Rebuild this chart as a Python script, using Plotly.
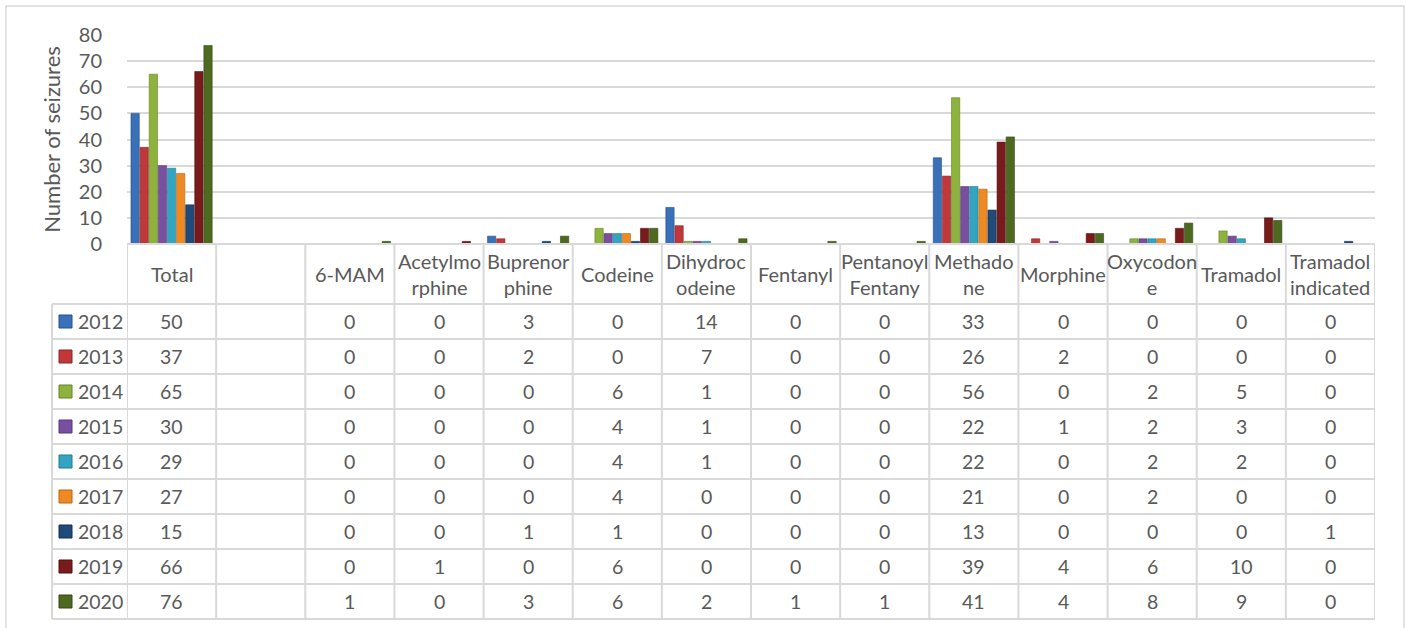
import plotly.graph_objects as go

# Categories (the second one is an empty spacer column)
categories = ["Total", "", "6-MAM", "Acetylmorphine", "Buprenorphine", "Codeine",
              "Dihydrocodeine", "Fentanyl", "Pentanoyl Fentany", "Methadone",
              "Morphine", "Oxycodone", "Tramadol", "Tramadol indicated"]
header_labels = ["Total", "", "6-MAM", "Acetylmo<br>rphine", "Buprenor<br>phine", "Codeine",
                 "Dihydroc<br>odeine", "Fentanyl", "Pentanoyl<br>Fentany", "Methado<br>ne",
                 "Morphine", "Oxycodon<br>e", "Tramadol", "Tramadol<br>indicated"]

years = ["2012", "2013", "2014", "2015", "2016", "2017", "2018", "2019", "2020"]

v2012 = [50, None, 0, 0, 3, 0, 14, 0, 0, 33, 0, 0, 0, 0]
v2013 = [37, None, 0, 0, 2, 0, 7, 0, 0, 26, 2, 0, 0, 0]
v2014 = [65, None, 0, 0, 0, 6, 1, 0, 0, 56, 0, 2, 5, 0]
v2015 = [30, None, 0, 0, 0, 4, 1, 0, 0, 22, 1, 2, 3, 0]
v2016 = [29, None, 0, 0, 0, 4, 1, 0, 0, 22, 0, 2, 2, 0]
v2017 = [27, None, 0, 0, 0, 4, 0, 0, 0, 21, 0, 2, 0, 0]
v2018 = [15, None, 0, 0, 1, 1, 0, 0, 0, 13, 0, 0, 0, 1]
v2019 = [66, None, 0, 1, 0, 6, 0, 0, 0, 39, 4, 6, 10, 0]
v2020 = [76, None, 1, 0, 3, 6, 2, 1, 1, 41, 4, 8, 9, 0]
series = [v2012, v2013, v2014, v2015, v2016, v2017, v2018, v2019, v2020]

colors = ["#3A70B8", "#C0383A", "#8DB33D", "#7950A0", "#33A5C0",
          "#EF8A22", "#1F4A7A", "#7A1B1B", "#4E6A20"]
edges = ["#24508C", "#8E2426", "#64822A", "#563878", "#227A90",
         "#B8661A", "#122F50", "#4F1010", "#33461A"]

FONT = "Lato, Calibri, Carlito, sans-serif"
TXT = "#595959"
GRID = "#D9D9D9"

W, H = 1407, 628
ML, MR, MT, MB = 127, 32, 35, 384
PW, PH = W - ML - MR, H - MT - MB


def py(y_px):
    """pixel row -> paper y"""
    return (H - MB - y_px) / PH


def px(x_px):
    """pixel column -> paper x"""
    return (x_px - ML) / PW


xs = list(range(len(categories)))
fig = go.Figure()
for yr, vals, c, e in zip(years, series, colors, edges):
    fig.add_trace(go.Bar(
        x=xs, y=[v if v else None for v in vals], name=yr,
        marker=dict(color=c, line=dict(color=e, width=0.6)),
        showlegend=False,
    ))

# ---- data table under the plot ----
table_top = H - MB          # 244
header_h = 60
row_h = 35
rows_top = table_top + header_h
table_bottom = rows_top + row_h * len(years)
legend_left = 52

shapes = []
line = dict(color=GRID, width=2)
# vertical column borders
for i in range(len(categories) + 1):
    shapes.append(dict(type="line", xref="x", yref="paper",
                       x0=i - 0.5, x1=i - 0.5, y0=py(table_top), y1=py(table_bottom),
                       line=line))
# legend column left border
shapes.append(dict(type="line", xref="paper", yref="paper",
                   x0=px(legend_left), x1=px(legend_left),
                   y0=py(rows_top), y1=py(table_bottom), line=line))
# horizontal borders
shapes.append(dict(type="line", xref="x", yref="paper", x0=-0.5, x1=len(categories) - 0.5,
                   y0=py(table_top), y1=py(table_top), line=line))
for r in range(len(years) + 1):
    yy = py(rows_top + r * row_h)
    shapes.append(dict(type="line", xref="paper", yref="paper",
                       x0=px(legend_left), x1=1, y0=yy, y1=yy, line=line))
# legend keys
for r, (c, e) in enumerate(zip(colors, edges)):
    cy = rows_top + r * row_h + row_h / 2
    shapes.append(dict(type="rect", xref="paper", yref="paper",
                       x0=px(59), x1=px(72), y0=py(cy - 6.5), y1=py(cy + 6.5),
                       fillcolor=c, line=dict(color=e, width=1)))
# outer chart border
shapes.append(dict(type="rect", xref="paper", yref="paper",
                   x0=px(6), x1=px(1404), y0=py(6), y1=py(660),
                   line=dict(color=GRID, width=1.5), fillcolor="rgba(0,0,0,0)", layer="below"))

annotations = []
hfont = dict(family=FONT, size=20, color=TXT)
tfont = dict(family=FONT, size=19.5, color=TXT)
for i, lab in enumerate(header_labels):
    if lab:
        annotations.append(dict(xref="x", yref="paper", x=i, y=py(table_top + header_h / 2),
                                text=lab, showarrow=False, font=hfont,
                                xanchor="center", yanchor="middle"))
for r, (yr, vals) in enumerate(zip(years, series)):
    cy = py(rows_top + r * row_h + row_h / 2)
    annotations.append(dict(xref="paper", yref="paper", x=px(76), y=cy, text=yr,
                            showarrow=False, font=tfont, xanchor="left", yanchor="middle"))
    for i, v in enumerate(vals):
        if v is None:
            continue
        annotations.append(dict(xref="x", yref="paper", x=i, y=cy, text=str(v),
                                showarrow=False, font=tfont,
                                xanchor="center", yanchor="middle"))

fig.update_layout(
    width=W, height=H,
    margin=dict(l=ML, r=MR, t=MT, b=MB, pad=0),
    paper_bgcolor="white", plot_bgcolor="white",
    barmode="group", bargap=0.08, bargroupgap=0.09,
    font=dict(family=FONT, color=TXT),
    xaxis=dict(range=[-0.5, len(categories) - 0.5], showticklabels=False,
               showgrid=False, zeroline=False, showline=False, ticks=""),
    yaxis=dict(range=[0, 80], dtick=10, showgrid=True, gridcolor=GRID, gridwidth=1.5,
               zeroline=False, showline=False, ticks="",
               ticklabelstandoff=24,
               tickfont=dict(family=FONT, size=20, color=TXT),
               title=dict(text="Number of seizures", standoff=12,
                          font=dict(family=FONT, size=22, color=TXT))),
    shapes=shapes,
    annotations=annotations,
)

fig.write_html("out.html")
